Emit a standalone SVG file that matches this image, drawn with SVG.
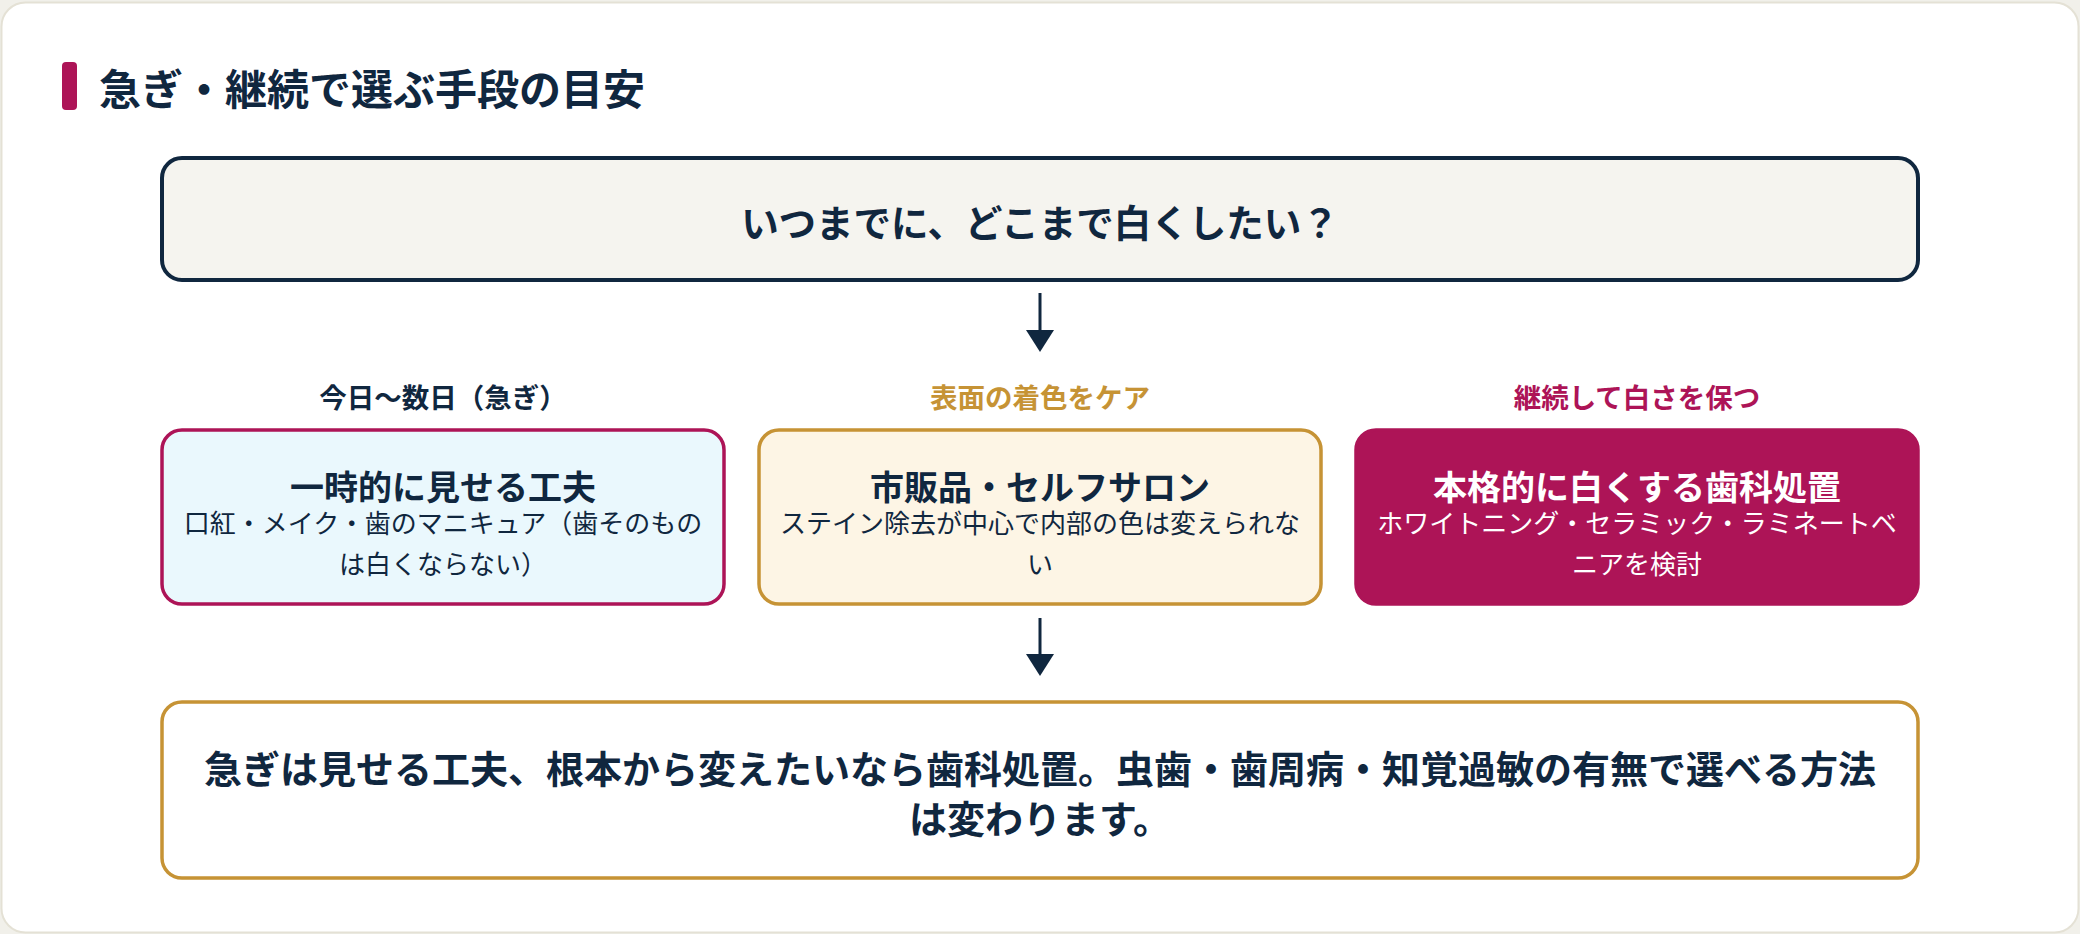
<svg xmlns="http://www.w3.org/2000/svg" width="2080" height="934" viewBox="0 0 2080 934">
<style>
text{font-family:"Noto Sans CJK JP","Noto Sans",sans-serif;dominant-baseline:central;text-anchor:middle;fill:#10273f}
.b{font-weight:700}
.h{font-size:27.5px;font-weight:700}
.t{font-size:34px;font-weight:700}
.s{font-size:26px;font-weight:400}
.w{fill:#ffffff}
.conn line{stroke:#10273f;stroke-width:3}
.conn polygon{fill:#10273f}
</style>
<rect x="0" y="0" width="2080" height="934" fill="#f1f0ea"/>
<rect x="1.5" y="2.5" width="2077" height="930" rx="24" fill="#ffffff" stroke="#e4e1d5" stroke-width="2"/>
<g id="title">
<rect x="62" y="62" width="15" height="48" rx="4" fill="#ad1457"/>
<text x="99" y="86" class="b" style="font-size:42px;text-anchor:start">急ぎ・継続で選ぶ手段の目安</text>
</g>
<g id="question">
<rect x="162" y="158" width="1756" height="122" rx="20" fill="#f5f4ef" stroke="#10273f" stroke-width="4"/>
<text x="1040" y="220" class="b" style="font-size:37.5px">いつまでに、どこまで白くしたい？</text>
</g>
<g id="opt1">
<text x="443" y="396" class="h">今日〜数日（急ぎ）</text>
<rect x="162" y="430" width="562" height="174" rx="20" fill="#eaf8fd" stroke="#ad1457" stroke-width="3.5"/>
<text x="443" y="485" class="t">一時的に見せる工夫</text>
<text x="443" y="521" class="s">口紅・メイク・歯のマニキュア（歯そのもの</text>
<text x="443" y="562" class="s">は白くならない）</text>
</g>
<g id="opt2">
<text x="1040" y="396" class="h" style="fill:#c69335">表面の着色をケア</text>
<rect x="759" y="430" width="562" height="174" rx="20" fill="#fdf5e5" stroke="#c69335" stroke-width="3.5"/>
<text x="1040" y="485" class="t">市販品・セルフサロン</text>
<text x="1040" y="521" class="s">ステイン除去が中心で内部の色は変えられな</text>
<text x="1040" y="562" class="s">い</text>
</g>
<g id="opt3">
<text x="1637" y="396" class="h" style="fill:#ad1457">継続して白さを保つ</text>
<rect x="1356" y="430" width="562" height="174" rx="20" fill="#ad1457" stroke="#ad1457" stroke-width="3.5"/>
<text x="1637" y="485" class="t w">本格的に白くする歯科処置</text>
<text x="1637" y="521" class="s w">ホワイトニング・セラミック・ラミネートベ</text>
<text x="1637" y="562" class="s w">ニアを検討</text>
</g>
<g id="summary">
<rect x="162" y="702" width="1756" height="176" rx="20" fill="#ffffff" stroke="#c69335" stroke-width="3.5"/>
<text x="1040" y="766" class="b" style="font-size:38px">急ぎは見せる工夫、根本から変えたいなら歯科処置。虫歯・歯周病・知覚過敏の有無で選べる方法</text>
<text x="1040" y="816" class="b" style="font-size:38px">は変わります。</text>
</g>
<g id="connectors" class="conn">
<line x1="1040" y1="293" x2="1040" y2="333"/>
<polygon points="1026,330 1054,330 1040,352"/>
<line x1="1040" y1="618" x2="1040" y2="657"/>
<polygon points="1026,654 1054,654 1040,676"/>
</g>
</svg>
